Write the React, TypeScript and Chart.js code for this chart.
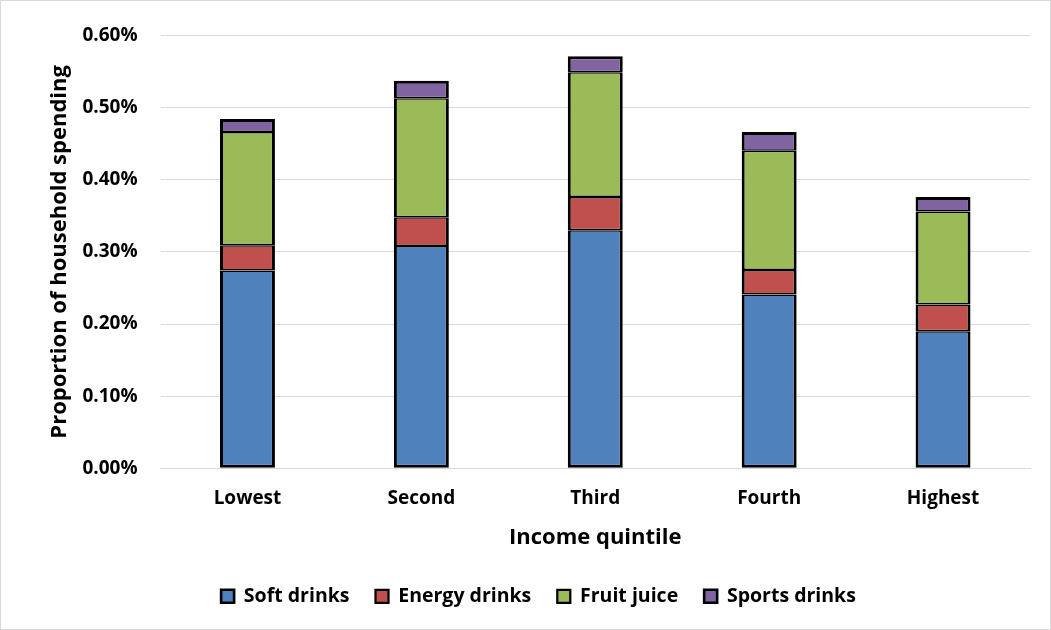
import React, { useEffect, useRef } from "react";
import { Chart, registerables } from "chart.js";

Chart.register(...registerables);

const categories = ["Lowest", "Second", "Third", "Fourth", "Highest"];
const softDrinks = [0.274, 0.308, 0.33, 0.241, 0.19];
const energyDrinks = [0.035, 0.04, 0.046, 0.034, 0.037];
const fruitJuice = [0.157, 0.165, 0.173, 0.165, 0.129];
const sportsDrinks = [0.018, 0.024, 0.022, 0.026, 0.02];

const seriesNames = ["Soft drinks", "Energy drinks", "Fruit juice", "Sports drinks"];
const seriesColors = ["#4F81BD", "#C0504D", "#9BBB59", "#8064A2"];
const yMin = 0;
const yMax = 0.6;
const yStep = 0.1;

const FONT = "'Open Sans', 'DejaVu Sans', sans-serif";

export default function App() {
  const ref = useRef<HTMLCanvasElement | null>(null);
  useEffect(() => {
    document.body.style.margin = "0";
    if (!ref.current) return;
    const values = [softDrinks, energyDrinks, fruitJuice, sportsDrinks];
    const n = values.length;
    const chart = new Chart(ref.current, {
      type: "bar",
      data: {
        labels: categories,
        datasets: values.map((v, i) => ({
          label: seriesNames[i],
          data: v,
          backgroundColor: seriesColors[i],
          borderColor: "#000000",
          borderWidth: {
            left: 3,
            right: 3,
            top: i === n - 1 ? 3 : 1.5,
            bottom: i === 0 ? 3 : 1.5,
          },
          borderSkipped: false,
          inflateAmount: 0,
          categoryPercentage: 1,
          barPercentage: 0.316,
        })),
      },
      options: {
        animation: false,
        responsive: false,
        devicePixelRatio: 1,
        layout: { padding: { left: 46, right: 20, top: 27, bottom: 13 } },
        plugins: {
          legend: {
            position: "bottom",
            labels: {
              color: "#000",
              font: { family: FONT, size: 19.5, weight: "bold" },
              boxWidth: 13,
              boxHeight: 13,
              padding: 26,
            },
          },
          tooltip: { enabled: false },
        },
        scales: {
          x: {
            stacked: true,
            grid: { display: false, drawTicks: false },
            border: { display: true, color: "#d9d9d9", width: 1 },
            ticks: {
              color: "#000",
              font: { family: FONT, size: 19, weight: "bold" },
              padding: 19,
            },
            title: {
              display: true,
              text: "Income quintile",
              color: "#000",
              font: { family: FONT, size: 22, weight: "bold" },
              padding: { top: -5, bottom: 10 },
            },
          },
          y: {
            stacked: true,
            min: yMin,
            max: yMax,
            grid: { color: "#d9d9d9", lineWidth: 1, drawTicks: false },
            border: { display: false },
            ticks: {
              stepSize: yStep,
              color: "#000",
              font: { family: FONT, size: 19, weight: "bold" },
              padding: 23,
              callback: (v: any) => Number(v).toFixed(2) + "%",
            },
            title: {
              display: true,
              text: "Proportion of household spending",
              color: "#000",
              font: { family: FONT, size: 22, weight: "bold" },
              padding: { top: 0, bottom: -14 },
            },
          },
        },
      },
    });
    return () => chart.destroy();
  }, []);
  return (
    <div
      style={{
        position: "absolute",
        left: 0,
        top: 0,
        width: 1051,
        height: 630,
        boxSizing: "border-box",
        border: "1px solid #d9d9d9",
        background: "#fff",
      }}
    >
      <canvas ref={ref} width={1049} height={628} />
    </div>
  );
}
